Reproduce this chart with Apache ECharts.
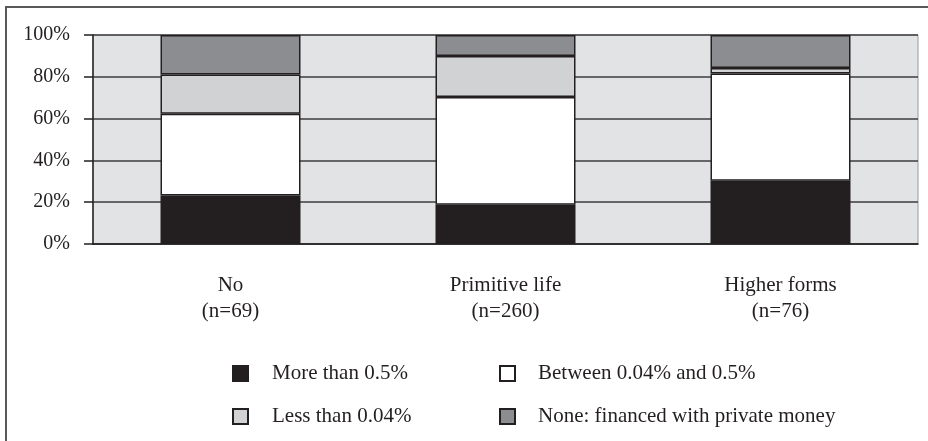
<!DOCTYPE html>
<html>
<head>
<meta charset="utf-8">
<script src="https://cdn.jsdelivr.net/npm/echarts@6/dist/echarts.min.js"></script>
<style>html,body{margin:0;padding:0;background:#fff}#c{width:928px;height:441px}</style>
</head>
<body>
<div id="c"></div>
<script>
var categories = ['No', 'Primitive life', 'Higher forms'];
var sampleSizes = ['(n=69)', '(n=260)', '(n=76)'];
var seriesNames = ['More than 0.5%', 'Between 0.04% and 0.5%', 'Less than 0.04%', 'None: financed with private money'];
var moreThan05 = [23.2, 18.8, 30.3];
var between004and05 = [39.1, 51.5, 51.3];
var lessThan004 = [18.8, 19.6, 2.6];
var noneFinanced = [18.9, 10.1, 15.8];
var yTicks = [0, 20, 40, 60, 80, 100];

var colors = ['#231f20', '#ffffff', '#d1d2d4', '#8c8d90'];
var values = [moreThan05, between004and05, lessThan004, noneFinanced];
var font = '"Liberation Serif", "Times New Roman", serif';

var xLabels = categories.map(function (c, i) { return c + '\n' + sampleSizes[i]; });

var series = seriesNames.map(function (name, i) {
  return {
    name: name,
    type: 'bar',
    stack: 'total',
    barWidth: 140,
    data: values[i],
    itemStyle: { color: colors[i], borderColor: '#231f20', borderWidth: 1.5 }
  };
});

function legendAt(name, left, top, pad) {
  return {
    data: [{ name: name, icon: 'rect' }],
    left: left, top: top,
    padding: 0,
    itemWidth: 15, itemHeight: 15,
    selectedMode: false,
    textStyle: { fontFamily: font, fontSize: 21, color: '#231f20', padding: [0, 0, 0, pad] }
  };
}

var chart = echarts.init(document.getElementById('c'), null, { renderer: 'canvas' });
chart.setOption({
  animation: false,
  backgroundColor: '#ffffff',
  graphic: [{
    type: 'rect',
    shape: { x: 6, y: 7, width: 1200, height: 1200 },
    style: { fill: 'none', stroke: '#58595b', lineWidth: 2 },
    silent: true
  }],
  grid: {
    left: 93, right: 10, top: 35, bottom: 197,
    show: true, backgroundColor: '#e2e3e5', borderColor: '#9a9b9d', borderWidth: 1
  },
  legend: [
    legendAt(seriesNames[0], 232, 363, 19),
    legendAt(seriesNames[1], 499, 363, 18),
    legendAt(seriesNames[2], 232, 406, 19),
    legendAt(seriesNames[3], 499, 406, 18)
  ],
  xAxis: {
    type: 'category',
    data: xLabels,
    axisLine: { lineStyle: { color: '#231f20', width: 1.5 } },
    axisTick: { length: 9, lineStyle: { color: '#231f20', width: 1.5 } },
    axisLabel: { fontFamily: font, fontSize: 21, color: '#231f20', margin: 28, lineHeight: 26 }
  },
  yAxis: {
    type: 'value',
    min: yTicks[0], max: yTicks[yTicks.length - 1], interval: 20,
    axisLine: { show: true, lineStyle: { color: '#231f20', width: 1.5 } },
    axisTick: { show: true, length: 9, lineStyle: { color: '#231f20', width: 1.5 } },
    splitLine: { show: true, lineStyle: { color: '#3d3d3f', width: 1.5 } },
    axisLabel: { fontFamily: font, fontSize: 20, color: '#231f20', margin: 23, formatter: '{value}%' }
  },
  series: series
});
</script>
</body>
</html>
